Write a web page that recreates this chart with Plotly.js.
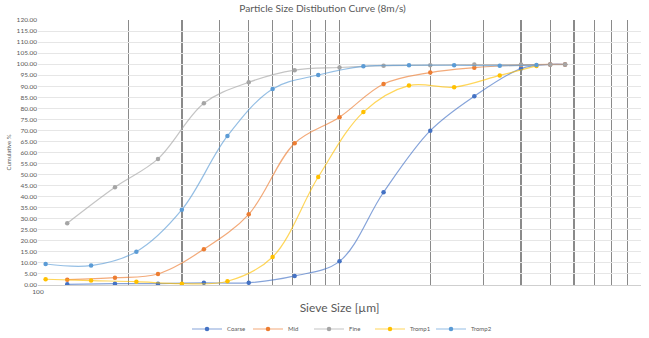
<!DOCTYPE html>
<html>
<head>
<meta charset="utf-8">
<script src="https://cdn.plot.ly/plotly-3.0.1.min.js"></script>
<style>
  html, body { margin: 0; padding: 0; background: #fff; }
  #chart { width: 649px; height: 338px; }
</style>
</head>
<body>
<div id="chart"></div>
<script>
// Sieve apertures (µm) for the product streams
const sieveSizes = [125, 180, 250, 355, 500, 710, 1000, 1400, 2000, 2800, 4000, 5000, 5600];
// Mid-point sizes (µm) used for the Tromp curves
const trompSizes = [106, 150, 212, 300, 425, 600, 850, 1200, 1700, 2400, 3400, 4500];

// Cumulative % passing
const coarse = [0.3, 0.6, 0.6, 1.0, 1.0, 4.1, 10.7, 42.0, 69.9, 85.5, 98.0, 99.9, 99.9];
const mid    = [2.4, 3.3, 5.0, 16.2, 32.0, 64.2, 76.0, 91.0, 96.2, 98.4, 99.6, 99.9, 99.9];
const fine   = [28.0, 44.3, 57.1, 82.3, 91.8, 97.3, 98.5, 99.3, 99.5, 99.8, 99.8, 99.8, 99.8];
const tromp1 = [2.6, 2.0, 1.5, 0.6, 1.7, 12.7, 48.9, 78.3, 90.3, 89.6, 94.9, 99.2];
const tromp2 = [9.5, 8.8, 15.1, 34.1, 67.5, 88.8, 95.1, 99.0, 99.5, 99.5, 99.3, 99.6];

// Log-scale grid: one line per unit within each decade, labels only at the ends
const xGridVals = [100, 200, 300, 400, 500, 600, 700, 800, 900,
                   1000, 2000, 3000, 4000, 5000, 6000, 7000, 8000, 9000, 10000];
const xGridText = xGridVals.map(v => (v === 100 || v === 10000) ? String(v) : '');

const FONT = 'Lato, "Open Sans", "Liberation Sans", sans-serif';
const TEXT = '#595959';

function series(name, xs, ys, rgb) {
  return {
    type: 'scatter',
    mode: 'lines+markers',
    name: name,
    x: xs,
    y: ys,
    line: { color: 'rgba(' + rgb + ',0.65)', width: 1.2, shape: 'spline', smoothing: 1 },
    marker: { color: 'rgb(' + rgb + ')', size: 4.5, symbol: 'circle' }
  };
}

const data = [
  series('Coarse', sieveSizes, coarse, '68,114,196'),
  series('Mid', sieveSizes, mid, '237,125,49'),
  series('Fine', sieveSizes, fine, '165,165,165'),
  series('Tromp1', trompSizes, tromp1, '255,192,0'),
  series('Tromp2', trompSizes, tromp2, '91,155,213')
];

const layout = {
  width: 649,
  height: 338,
  margin: { l: 38, r: 8, t: 20, b: 53, autoexpand: false },
  paper_bgcolor: '#ffffff',
  plot_bgcolor: '#ffffff',
  font: { family: FONT, color: TEXT, size: 7 },
  title: {
    text: 'Particle Size Distibution Curve (8m/s)',
    font: { family: FONT, size: 10.2, color: TEXT },
    x: 0.497, xref: 'container', xanchor: 'center',
    y: 0.985, yref: 'container', yanchor: 'top'
  },
  xaxis: {
    type: 'log',
    range: [2, 4],
    tickmode: 'array',
    tickvals: xGridVals,
    ticktext: xGridText,
    ticks: '',
    showgrid: true,
    gridcolor: '#8a8a8a',
    gridwidth: 1.3,
    showline: true,
    linecolor: '#cfcfcf',
    linewidth: 1,
    zeroline: false,
    tickfont: { family: FONT, size: 6.5, color: TEXT },
    title: {
      text: 'Sieve Size [µm]',
      font: { family: FONT, size: 12, color: TEXT },
      standoff: 9
    }
  },
  yaxis: {
    range: [0, 120],
    tickmode: 'linear',
    tick0: 0,
    dtick: 5,
    tickformat: '.2f',
    ticks: '',
    showgrid: true,
    gridcolor: '#e6e6e6',
    gridwidth: 1,
    zeroline: false,
    showline: false,
    tickfont: { family: FONT, size: 6.5, color: TEXT },
    title: {
      text: 'Cumulative %',
      font: { family: FONT, size: 6, color: TEXT },
      standoff: 4
    }
  },
  showlegend: true,
  legend: {
    orientation: 'h',
    x: 0.5, xref: 'paper', xanchor: 'center',
    y: -0.166, yref: 'paper', yanchor: 'middle',
    font: { family: FONT, size: 6, color: TEXT },
    itemwidth: 30,
    entrywidth: 16,
    entrywidthmode: 'pixels',
    tracegroupgap: 0
  }
};

Plotly.newPlot('chart', data, layout, { staticPlot: true, displayModeBar: false });
</script>
</body>
</html>
